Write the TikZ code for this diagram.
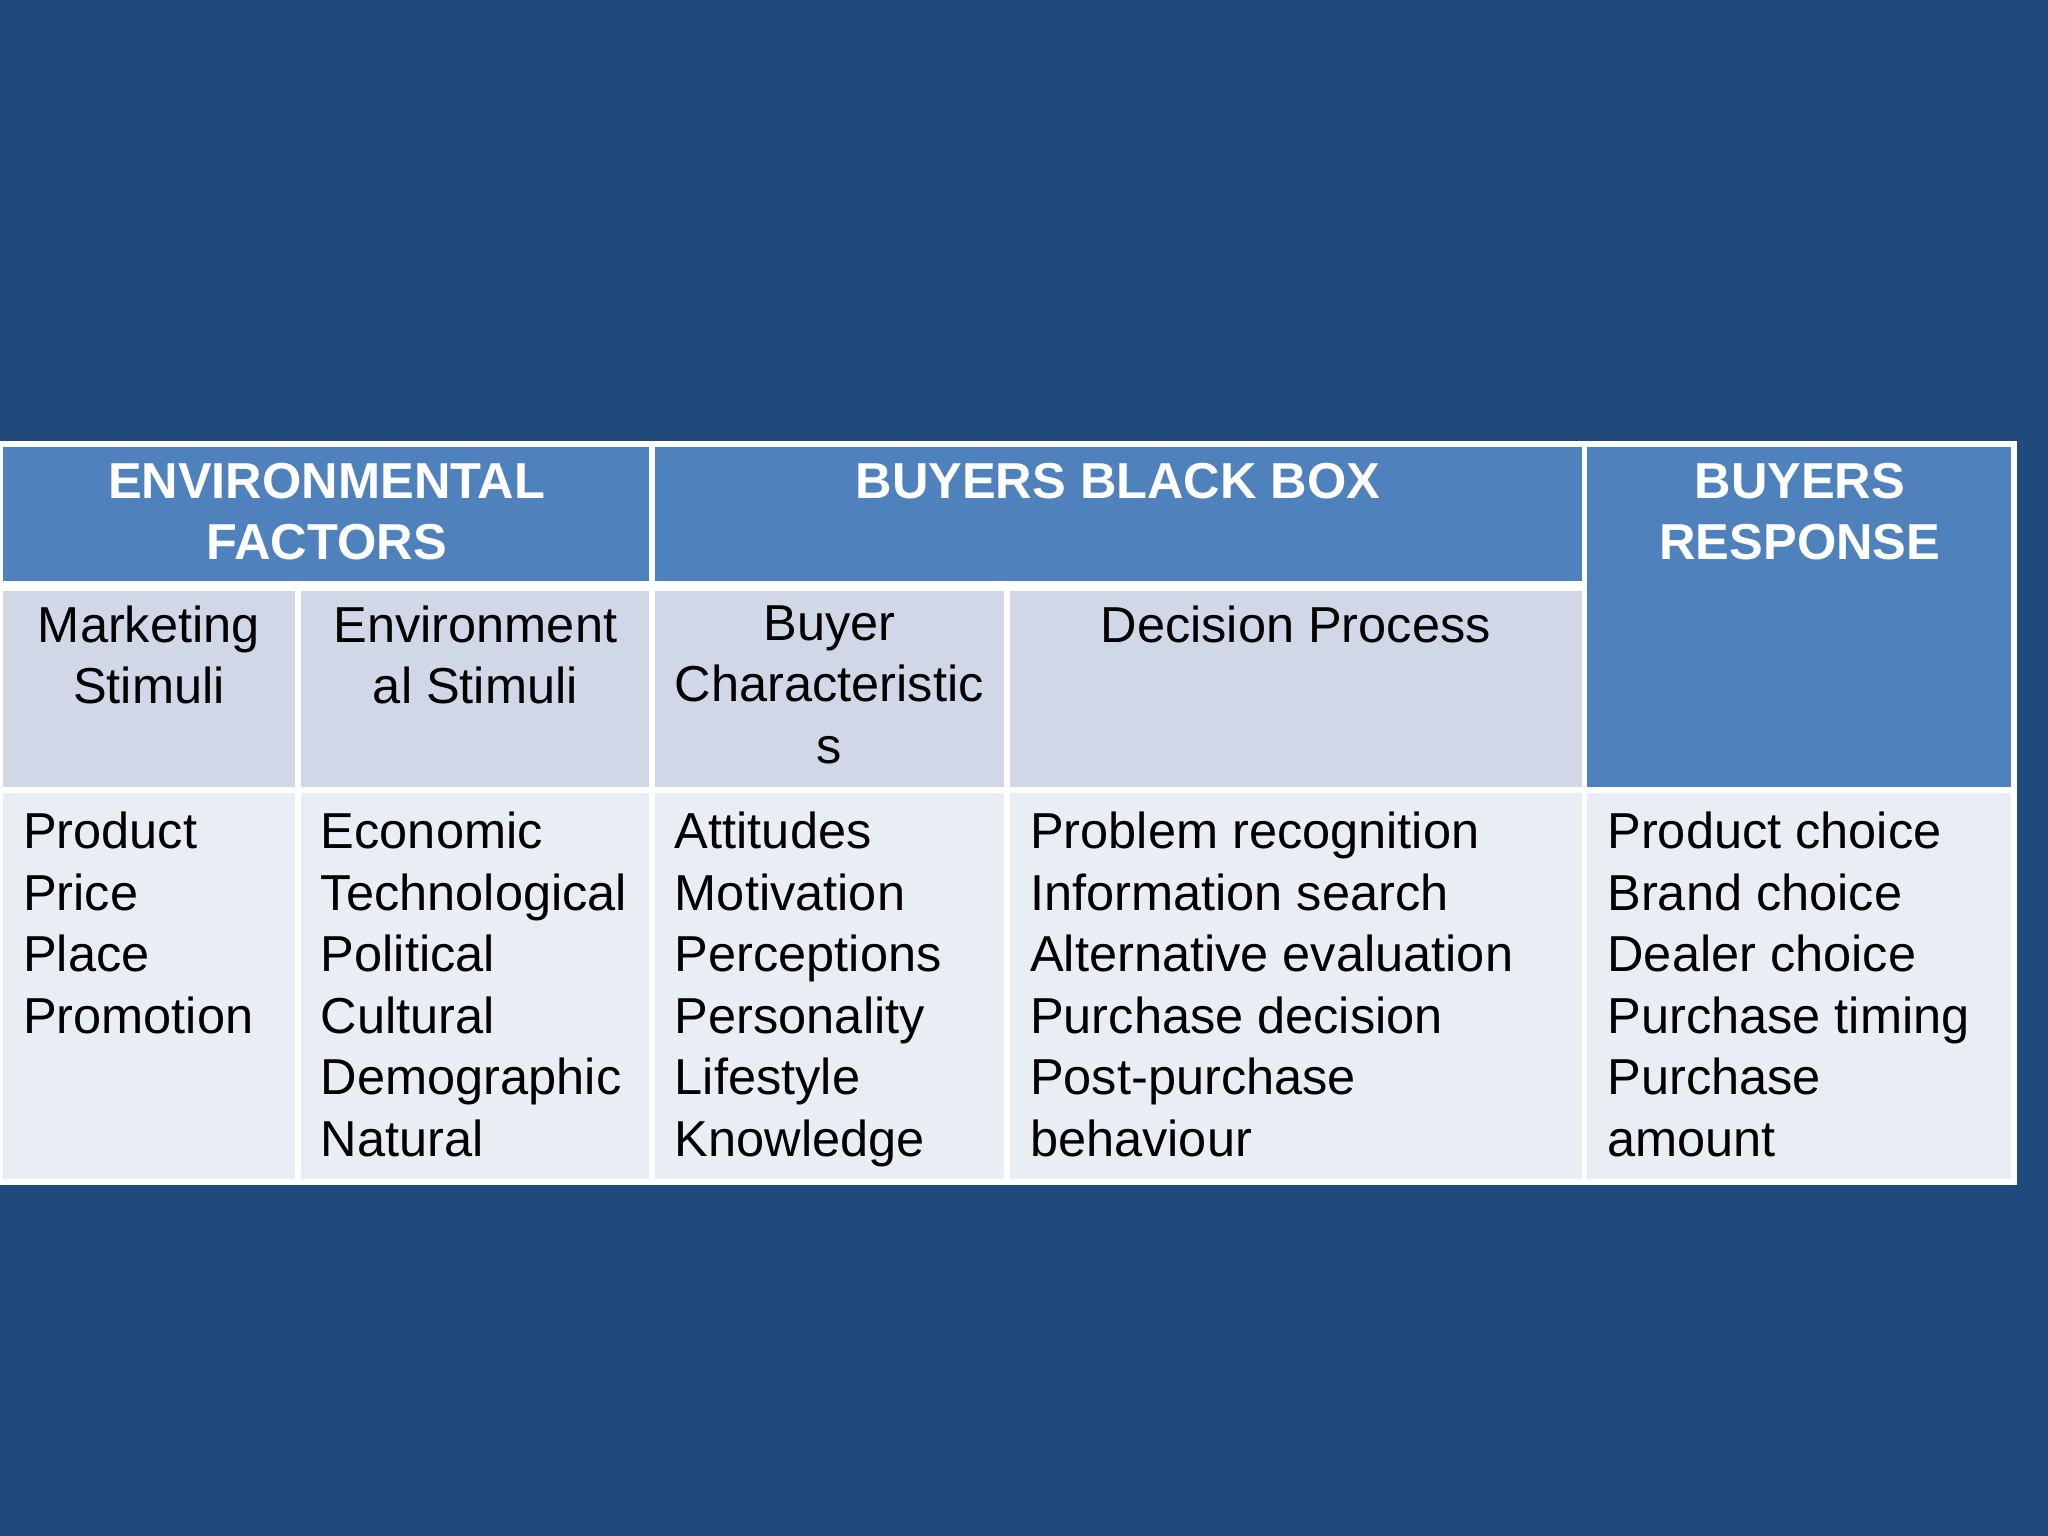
\documentclass[tikz,border=0pt]{standalone}
\usepackage{fontspec}
\setmainfont{Liberation Sans}
\definecolor{bg}{HTML}{204A7C}
\definecolor{hd}{HTML}{4F81BD}
\definecolor{sub}{HTML}{D0D8E8}
\definecolor{bod}{HTML}{E9EDF4}
\begin{document}
\begin{tikzpicture}[x=0.01cm,y=-0.01cm,
  cell/.style={draw=white,line width=1.2pt},
  ht/.style={font=\fontsize{11pt}{13.3pt}\selectfont\bfseries,text=white,align=center,inner sep=0pt,anchor=north},
  st/.style={font=\fontsize{11pt}{13.4pt}\selectfont,text=black,align=center,inner sep=0pt,anchor=north},
  bt/.style={font=\fontsize{11pt}{13.4pt}\selectfont,text=black,align=left,inner sep=0pt,anchor=north west}]
\fill[bg] (0,0) rectangle (1568,1176);
\useasboundingbox (0,0) rectangle (1568,1176);
% header
\filldraw[hd,cell] (0,340) rectangle (499,447);
\filldraw[hd,cell] (499,340) rectangle (1213,447);
\filldraw[hd,cell] (1213,340) rectangle (1542,605);
% sub headers
\foreach \a/\b in {0/228,228/499,499/771,771/1213}{
  \filldraw[sub,cell] (\a,450) rectangle (\b,605);
  \filldraw[bod,cell] (\a,605) rectangle (\b,905);}
\filldraw[bod,cell] (1213,605) rectangle (1542,905);
\node[ht] (h1) at (250,354) {ENVIRONMENTAL\\FACTORS};
\node[ht] (h2) at (856,354) {BUYERS BLACK BOX};
\node[ht] (h3) at (1378,354) {BUYERS\\RESPONSE};
\node[st] (s1) at (114,463) {Marketing\\Stimuli};
\node[st] (s2) at (364,463) {Environment\\al Stimuli};
\node[st] (s3) at (635,463) {Buyer\\Characteristic\\s};
\node[st] (s4) at (992,463) {Decision Process};
\node[bt] (b1) at (17,621) {Product\\Price\\Place\\Promotion};
\node[bt] (b2) at (245,621) {Economic\\Technological\\Political\\Cultural\\Demographic\\Natural};
\node[bt] (b3) at (516,621) {Attitudes\\Motivation\\Perceptions\\Personality\\Lifestyle\\Knowledge};
\node[bt] (b4) at (788,621) {Problem recognition\\Information search\\Alternative evaluation\\Purchase decision\\Post-purchase\\behaviour};
\node[bt] (b5) at (1230,621) {Product choice\\Brand choice\\Dealer choice\\Purchase timing\\Purchase\\amount};
\end{tikzpicture}
\end{document}
